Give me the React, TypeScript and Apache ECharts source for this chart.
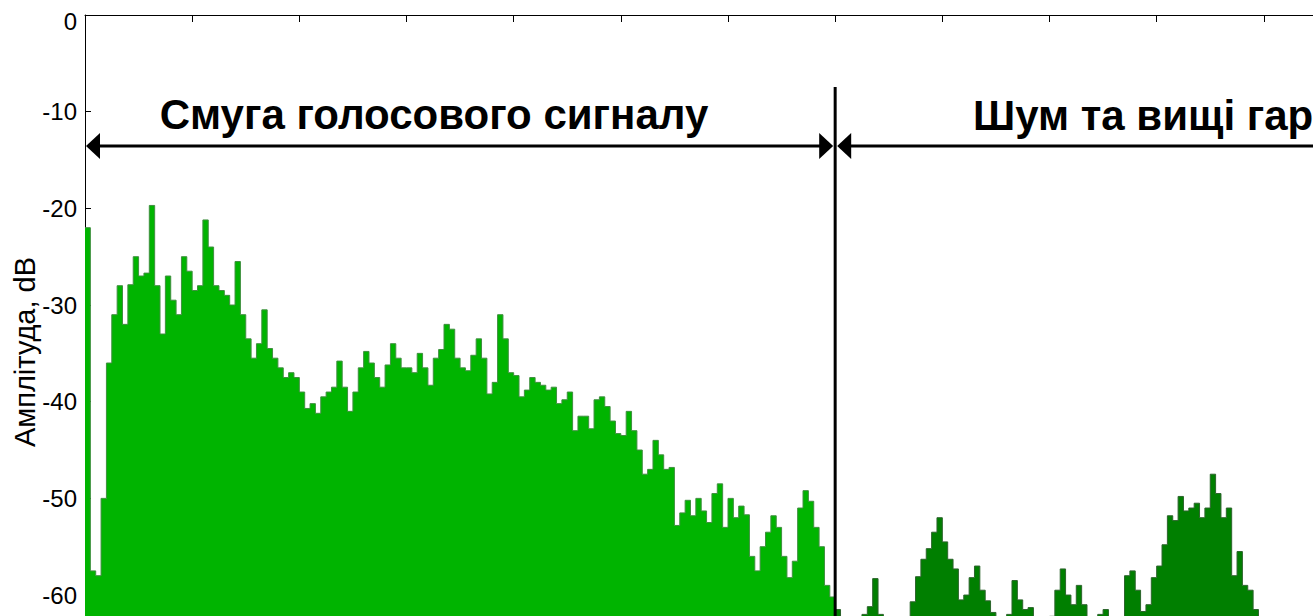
import React, { useEffect, useRef } from "react";
import * as echarts from "echarts";

// ---- data ----
const BIN_HZ = 25; // width of one spectral bin
const VOICE_START_HZ = 0;
const NOISE_START_HZ = 3500;
const X_MIN = 0;
const X_MAX = 6000;
const X_STEP = 500;
const Y_MIN = -80;
const Y_MAX = 0;
const Y_STEP = 10;
const Y_LOWEST_LABEL = -60; // lower ticks lie below the visible crop

const VOICE_LABEL = "Смуга голосового сигналу";
const NOISE_LABEL = "Шум та вищі гармоніки";
const Y_NAME = "Амплітуда, dB";

// amplitude (dB) of each 25 Hz bin in the voice band, 0 … 3500 Hz
const voiceDb = [
  -22, -57.5, -58, -50, -36, -31, -28, -32, -27.9, -25,
  -27, -26.7, -19.7, -28, -33, -27, -29.5, -31, -25, -26.5,
  -28.5, -28, -21.2, -24, -28, -28.5, -29, -30, -25.5, -31,
  -33.5, -35.5, -34, -30.5, -34.5, -35.5, -36.5, -37.5, -37, -37.5,
  -39, -40.7, -40.2, -41.2, -39.5, -39, -38.5, -35.8, -38.5, -41,
  -39, -36.5, -34.8, -36, -37.5, -38.5, -36.2, -34, -35.5, -36.5,
  -36.5, -37, -35, -36.5, -38.3, -35.5, -34.6, -32, -32.5, -35.5,
  -36.5, -36.8, -35.2, -33.5, -35.5, -39.2, -38, -31, -33.5, -37,
  -37.3, -39.5, -38.8, -37.5, -38, -38.3, -38.8, -38.5, -40.2, -39.8,
  -39, -43, -41.5, -41.5, -42.8, -39.8, -39.5, -40.5, -42, -43.3,
  -43.5, -41, -43, -45, -47.5, -47, -44, -45.5, -47, -46.8,
  -52.8, -51.5, -50.2, -51.8, -50, -51.3, -52.5, -49.5, -48.5, -53,
  -50, -52, -50.8, -51.7, -56, -57.5, -55, -53.5, -51.8, -53,
  -56, -58.2, -56.5, -51, -49.2, -50.3, -53, -55, -59, -60.2,
];

// amplitude (dB) of each 25 Hz bin above the voice band, 3500 … 6000 Hz
const noiseDb = [
  -61.5, -65, -65, -65, -65, -62, -61.2, -58.3, -62, -65,
  -65, -65, -65, -65, -60.7, -58.1, -56.3, -55.2, -53.5, -52,
  -54.5, -56.3, -57.3, -60.5, -60, -58.2, -57, -59.5, -60.6, -61.8,
  -65, -65, -62, -58.5, -60.5, -61.5, -61.3, -65, -65, -65,
  -62.2, -59.5, -57.3, -60, -61, -59, -61, -65, -65, -62,
  -61.5, -65, -65, -64, -58, -57.5, -59.5, -61.7, -61, -58.2,
  -57, -54.8, -51.8, -52.3, -49.8, -51.3, -51, -50.5, -52, -51,
  -47.5, -49.5, -52, -51, -58, -55.5, -59, -59.5, -61.5, -65,
  -65, -65, -65, -65, -65, -65, -65, -65, -65, -65,
  -65, -65, -65, -65, -65, -65, -65, -65, -65, -65,
];

// annotation anchors in data space
const ARROW_DB = -13.55;
const DIVIDER_TOP_DB = -7.45;

const FONT = '"Liberation Sans", Arial, Helvetica, sans-serif';

function toSeries(startHz: number, values: number[]): number[][] {
  const pts = values.map((v, i) => [startHz + i * BIN_HZ, v]);
  pts.push([startHz + values.length * BIN_HZ, values[values.length - 1]]);
  return pts;
}

export default function App() {
  const ref = useRef<HTMLDivElement>(null);

  useEffect(() => {
    if (!ref.current) return;
    const chart = echarts.init(ref.current, undefined, { renderer: "svg" });

    const axisLine = { show: true, onZero: false, lineStyle: { color: "#000", width: 1 } };

    chart.setOption({
      animation: false,
      backgroundColor: "#fff",
      grid: { left: 85, top: 15, width: 1286, height: 773.4, containLabel: false },
      xAxis: [
        {
          type: "value",
          min: X_MIN,
          max: X_MAX,
          interval: X_STEP,
          position: "bottom",
          axisLine,
          axisTick: { show: true, inside: true, length: 7, lineStyle: { color: "#000" } },
          axisLabel: { show: false },
          splitLine: { show: false },
        },
        {
          type: "value",
          min: X_MIN,
          max: X_MAX,
          interval: X_STEP,
          position: "top",
          axisLine,
          axisTick: { show: true, inside: true, length: 7, lineStyle: { color: "#000" } },
          axisLabel: { show: false },
          splitLine: { show: false },
        },
      ],
      yAxis: [
        {
          type: "value",
          min: Y_MIN,
          max: Y_MAX,
          interval: Y_STEP,
          axisLine,
          axisTick: { show: true, inside: true, length: 6, lineStyle: { color: "#000" } },
          axisLabel: {
            color: "#000",
            fontSize: 24,
            fontFamily: FONT,
            margin: 8,
            formatter: (v: number) =>
              v < Y_LOWEST_LABEL ? "" : v === Y_MAX ? "{top|" + v + "}" : String(v),
            rich: {
              top: { color: "#000", fontSize: 24, fontFamily: FONT, padding: [13, 0, 0, 0] },
            },
          },
          splitLine: { show: false },
        },
      ],
      series: [
        {
          type: "line",
          step: "end",
          data: toSeries(VOICE_START_HZ, voiceDb),
          showSymbol: false,
          lineStyle: { color: "#3f8f3f", width: 1 },
          areaStyle: { color: "#00b400", opacity: 1, origin: "start" },
          z: 2,
        },
        {
          type: "line",
          step: "end",
          data: toSeries(NOISE_START_HZ, noiseDb),
          showSymbol: false,
          lineStyle: { color: "#2c642c", width: 1 },
          areaStyle: { color: "#007f00", opacity: 1, origin: "start" },
          z: 2,
        },
      ],
    });

    const p = (x: number, y: number) =>
      chart.convertToPixel({ seriesIndex: 0 }, [x, y]) as number[];
    const [x0, ya] = p(X_MIN, ARROW_DB);
    const [xd] = p(NOISE_START_HZ, ARROW_DB);
    const [xe] = p(X_MAX, ARROW_DB);
    const [, yTop] = p(NOISE_START_HZ, DIVIDER_TOP_DB);
    const [, yBot] = p(NOISE_START_HZ, Y_MIN);
    const black = { stroke: "#000", lineWidth: 3 };

    chart.setOption({
      graphic: [
        { type: "line", z: 100, shape: { x1: x0 + 6, y1: ya, x2: xd - 6, y2: ya }, style: black },
        { type: "line", z: 100, shape: { x1: xd + 6, y1: ya, x2: xe, y2: ya }, style: black },
        { type: "line", z: 100, shape: { x1: xd, y1: yTop, x2: xd, y2: yBot }, style: black },
        {
          type: "polygon",
          z: 100,
          shape: { points: [[x0 + 1, ya], [x0 + 15, ya - 13], [x0 + 15, ya + 13]] },
          style: { fill: "#000" },
        },
        {
          type: "polygon",
          z: 100,
          shape: { points: [[xd - 2, ya], [xd - 16, ya - 13], [xd - 16, ya + 13]] },
          style: { fill: "#000" },
        },
        {
          type: "polygon",
          z: 100,
          shape: { points: [[xd + 2, ya], [xd + 16, ya - 13], [xd + 16, ya + 13]] },
          style: { fill: "#000" },
        },
        {
          type: "text",
          z: 100,
          x: 434,
          y: 114,
          style: {
            text: VOICE_LABEL,
            fontSize: 42,
            fontWeight: "bold",
            fontFamily: FONT,
            fill: "#000",
            align: "center",
            verticalAlign: "middle",
          },
        },
        {
          type: "text",
          z: 100,
          x: 973,
          y: 115,
          style: {
            text: NOISE_LABEL,
            fontSize: 42,
            fontWeight: "bold",
            fontFamily: FONT,
            fill: "#000",
            align: "left",
            verticalAlign: "middle",
          },
        },
        {
          type: "text",
          z: 100,
          x: 25,
          y: 352,
          rotation: Math.PI / 2,
          style: {
            text: Y_NAME,
            fontSize: 29,
            fontFamily: FONT,
            fill: "#000",
            align: "center",
            verticalAlign: "middle",
          },
        },
      ],
    });

    return () => chart.dispose();
  }, []);

  return (
    <div
      style={{
        position: "fixed",
        left: 0,
        top: 0,
        width: 1313,
        height: 616,
        overflow: "hidden",
        background: "#fff",
      }}
    >
      <div ref={ref} style={{ width: 1450, height: 850 }} />
    </div>
  );
}
